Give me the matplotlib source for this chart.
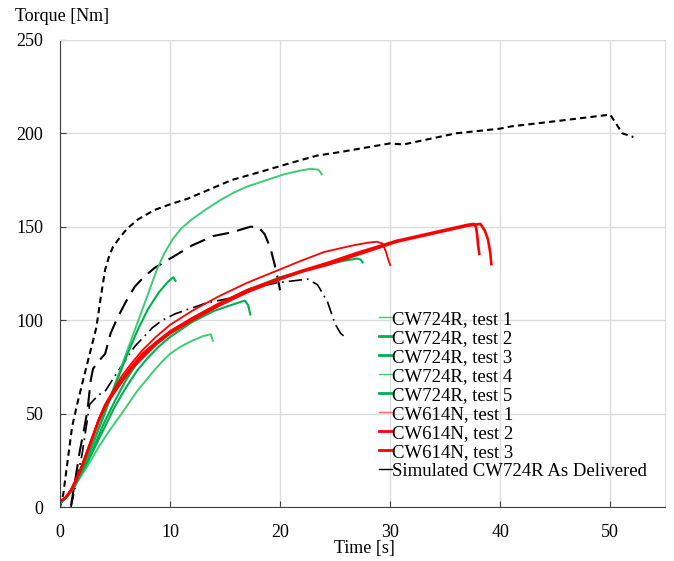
import matplotlib.pyplot as plt
from matplotlib.lines import Line2D

plt.rcParams['font.family'] = ['Liberation Serif', 'DejaVu Serif']

# CW724R tests (time [s], torque [Nm])
cw724_t1_t = [0, 0.7, 1.4, 2.2, 3, 4, 5, 6, 7, 8, 8.8, 9.5, 10.2, 11, 12, 13.2, 14.5, 15.7,
              17, 18.8, 20.3, 21.8, 22.8, 23.5, 23.8]
cw724_t1_y = [2, 6, 12, 22, 34, 50, 66, 82, 98, 114, 127, 136, 143, 149, 154, 159, 164, 168,
              171.5, 175, 178, 180, 181, 180.5, 178]
cw724_t2_t = [0, 0.7, 1.4, 2.2, 3, 4, 5, 6, 7, 8, 9, 9.8, 10.3, 10.5]
cw724_t2_y = [2, 6, 12, 22, 34, 49, 65, 80, 94, 106, 115, 120.5, 123, 121]
cw724_t3_t = [0, 0.7, 1.4, 2.2, 3, 4, 5, 6, 7, 8, 9, 10, 11, 12, 13, 14, 15, 16, 16.8, 17.1, 17.3]
cw724_t3_y = [2, 6, 12, 20, 30, 42, 54, 64, 73, 80, 86, 91, 95, 99, 102, 105, 107, 109, 110.5,
              108, 103]
cw724_t4_t = [0, 0.7, 1.4, 2.5, 3.5, 4.5, 5.6, 7, 8.4, 9.3, 10, 11, 12, 13, 13.7, 13.9]
cw724_t4_y = [2, 6, 12, 22, 32, 41, 50, 62, 72, 78, 82, 86, 89, 91.5, 92.5, 89]
cw724_t5_t = [0, 0.7, 1.4, 2.2, 3, 4, 5, 6, 7, 8, 9, 10, 12, 14.5, 17, 20, 23.6, 26, 27, 27.3, 27.5]
cw724_t5_y = [2, 6, 12, 21, 31, 45, 57, 68, 77, 84, 89, 93, 101, 109, 116, 123, 129, 132, 133,
              132.5, 131]

# CW614N tests
cw614_t1_t = [0, 0.5, 1, 1.5, 2, 2.5, 3, 3.5, 4.1, 5, 5.6, 6.5, 7.5, 8.7, 10, 12, 14.5, 17,
              19.7, 22, 24, 26.6, 28, 28.8, 29.3, 29.6, 29.8, 30]
cw614_t1_y = [3, 5, 9, 15, 22, 30, 38, 47, 55, 64, 70, 77, 84, 91, 97.5, 105, 113, 120,
              126.5, 132, 136.5, 140, 141.5, 142, 141, 137, 133, 129.5]
cw614_t2_t = [0, 0.5, 1, 1.5, 2, 2.5, 3, 3.5, 4.1, 5, 5.6, 6.5, 7.5, 8.7, 10, 12, 14.5, 17,
              20, 22, 24.5, 27, 30.6, 34, 37, 37.6, 37.8, 37.9, 38, 38.1]
cw614_t2_y = [3, 5, 9, 15, 22, 30, 38, 46, 54, 63, 68, 75, 82, 88, 94, 101, 109, 116,
              122.5, 126.5, 131, 136, 142.5, 147, 151, 151.5, 150, 146, 140, 135.5]
cw614_t3_t = [0, 0.5, 1, 1.5, 2, 2.5, 3, 3.5, 4.1, 5, 5.6, 6.5, 7.5, 8.7, 10, 12, 14.5, 17,
              20, 22, 24.5, 27, 30.6, 34, 37, 38.2, 38.6, 38.9, 39.1, 39.2]
cw614_t3_y = [3, 5, 9, 15, 22, 30, 38, 46, 54, 62, 67, 74, 80, 87, 93, 100, 108, 115,
              122, 126, 130, 135, 142, 146.5, 150.5, 151.5, 148, 143, 136, 130]

# Simulated CW724R as delivered
sim1_t = [0, 0.3, 0.7, 1.1, 1.6, 2.1, 2.7, 3.3, 3.7, 4.1, 4.5, 4.8, 5.4, 6.1, 7.1, 8.6, 10,
          11.6, 13.2, 15.6, 18, 20.9, 23.3, 25.5, 30, 31.2, 36, 40, 41, 45.8, 50, 51.1, 52.1]
sim1_y = [0, 7, 25, 43, 56, 68, 82, 96, 112, 127, 135, 139, 144, 149, 154, 159, 162,
          165, 169, 175, 179, 184, 188, 190, 194.6, 194, 200, 202.5, 203.7, 207, 210, 200, 198]
sim2_t = [1, 1.4, 1.8, 2.2, 2.5, 2.8, 3, 3.5, 4.1, 4.6, 5.2, 6, 6.8, 7.6, 8.6, 10.3, 12, 13.9,
          15.6, 17.3, 18, 18.6, 19.1, 19.5, 19.8, 20]
sim2_y = [1, 15, 30, 42, 52, 68, 74, 78, 82, 93, 101, 110, 118, 123, 128, 134, 140, 145,
          147, 150, 150, 146, 139, 130, 122, 116]
sim3_t = [1, 2, 2.7, 3.5, 4.1, 5.3, 6.8, 8.4, 9.3, 10.5, 13.2, 15.6, 17.3, 19.7, 22.5, 23.4,
          24.3, 25, 25.5, 26.1]
sim3_y = [0, 28, 55, 60, 62, 73, 86, 96, 100, 103.5, 109, 112, 117, 120, 122, 119,
          110, 98, 93, 90]

labels = ['CW724R, test 1', 'CW724R, test 2', 'CW724R, test 3', 'CW724R, test 4',
          'CW724R, test 5', 'CW614N, test 1', 'CW614N, test 2', 'CW614N, test 3',
          'Simulated CW724R As Delivered']

light_green = '#3dcc74'
green = '#00b050'
red = '#ff0000'

fig = plt.figure(figsize=(6.74, 5.61), dpi=100)
ax = fig.add_axes([0.089, 0.096, 0.898, 0.833])

ax.plot(sim1_t, sim1_y, color='black', lw=1.5, ls=(0, (3, 2)))
ax.plot(sim2_t, sim2_y, color='black', lw=1.5, ls=(0, (8, 4)))
ax.plot(sim3_t, sim3_y, color='black', lw=1.2, ls=(0, (8, 3, 1, 3)))

ax.plot(cw724_t1_t, cw724_t1_y, color=light_green, lw=1.4)
ax.plot(cw724_t2_t, cw724_t2_y, color=green, lw=1.5)
ax.plot(cw724_t3_t, cw724_t3_y, color=green, lw=1.5)
ax.plot(cw724_t4_t, cw724_t4_y, color=light_green, lw=1.4)
ax.plot(cw724_t5_t, cw724_t5_y, color=green, lw=1.5)

ax.plot(cw614_t1_t, cw614_t1_y, color=red, lw=1.3)
ax.plot(cw614_t2_t, cw614_t2_y, color=red, lw=1.9)
ax.plot(cw614_t3_t, cw614_t3_y, color=red, lw=1.9)

ax.set_xlim(0, 55)
ax.set_ylim(0, 250)
ax.set_xticks(range(0, 51, 10))
ax.set_yticks(range(0, 251, 50))
ax.grid(True, color='#dcdcdc', lw=1)
ax.set_axisbelow(True)
for s in ['top', 'right']:
    ax.spines[s].set_color('#dcdcdc')
for s in ['left', 'bottom']:
    ax.spines[s].set_color('#404040')
ax.tick_params(axis='both', direction='in', length=4, color='#404040', labelsize=13)
ax.tick_params(axis='y', pad=12)
ax.tick_params(axis='x', pad=12)

fig.text(0.022, 0.97, 'Torque [Nm]', fontsize=13, va='center', ha='left')
fig.text(0.54, 0.023, 'Time [s]', fontsize=13, va='center', ha='center')

handles = [Line2D([], [], color=light_green, lw=1),
           Line2D([], [], color=green, lw=2),
           Line2D([], [], color=green, lw=2),
           Line2D([], [], color=light_green, lw=1),
           Line2D([], [], color=green, lw=2),
           Line2D([], [], color='#ff6060', lw=1),
           Line2D([], [], color=red, lw=2),
           Line2D([], [], color=red, lw=2),
           Line2D([], [], color='black', lw=1)]
fig.legend(handles, labels, loc='upper left', bbox_to_anchor=(0.562, 0.446),
           frameon=False, fontsize=13.5, handlelength=0.7, handletextpad=0,
           labelspacing=0.1, borderpad=0, borderaxespad=0)

fig.savefig('out.png', dpi=100)
